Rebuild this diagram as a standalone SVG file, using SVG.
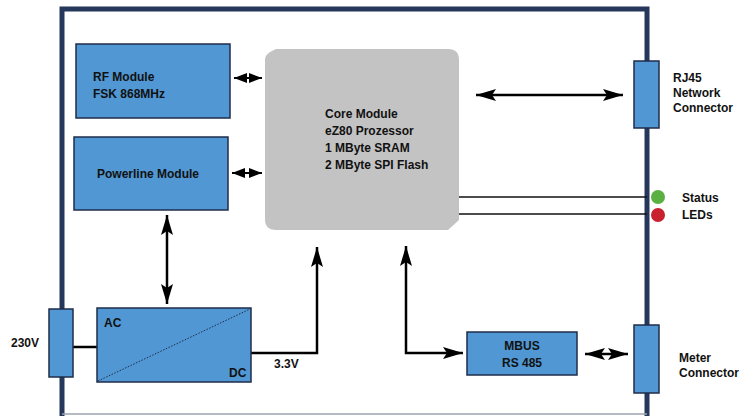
<svg xmlns="http://www.w3.org/2000/svg" width="755" height="416" viewBox="0 0 755 416">
<style>
.blk{fill:#5097d3;stroke:#1f2d4a;stroke-width:1.5}
.t{font-family:"Liberation Sans",Arial,sans-serif;font-weight:bold;font-size:12px;fill:#111}
.ln{fill:none;stroke:#000;stroke-width:2.5}
.thin{fill:none;stroke:#111;stroke-width:1.5}
.sm{fill:none;stroke:#000;stroke-width:2}
</style>
<defs>
<marker id="ah" markerUnits="userSpaceOnUse" markerWidth="22" markerHeight="12" refX="20" refY="6" orient="auto-start-reverse"><path d="M0,0 L20,6 L0,12 L4,6 Z" fill="#000"/></marker>
<marker id="sh" markerUnits="userSpaceOnUse" markerWidth="14" markerHeight="10" refX="13" refY="5" orient="auto-start-reverse"><path d="M0,0 L13,5 L0,10 Z" fill="#000"/></marker>
</defs>
<rect width="755" height="416" fill="#fff"/>
<g id="frame">
<rect x="62" y="9" width="585" height="412" fill="none" stroke="#25375a" stroke-width="5"/>
<line x1="62" y1="414" x2="647" y2="414" stroke="#9aa3ad" stroke-width="1.5"/>
</g>
<g id="connectors">
<line class="sm" x1="234" y1="78" x2="262" y2="78" marker-start="url(#sh)" marker-end="url(#sh)"/>
<line class="sm" x1="232" y1="173" x2="262" y2="173" marker-start="url(#sh)" marker-end="url(#sh)"/>
<line class="ln" x1="476" y1="95" x2="623" y2="95" marker-start="url(#ah)" marker-end="url(#ah)"/>
<line class="ln" x1="167" y1="215" x2="167" y2="304" marker-start="url(#ah)" marker-end="url(#ah)"/>
<polyline class="ln" points="251,353 317,353 317,247" marker-end="url(#ah)"/>
<polyline class="ln" points="406,246 406,353 463,353" marker-start="url(#ah)" marker-end="url(#ah)"/>
<line class="ln" x1="585" y1="354" x2="628" y2="354" marker-start="url(#ah)" marker-end="url(#ah)"/>
<line class="thin" x1="459" y1="197" x2="647" y2="197"/>
<line class="thin" x1="459" y1="214" x2="647" y2="214"/>
<line x1="73" y1="347" x2="97" y2="347" stroke="#000" stroke-width="2.5"/>
</g>
<g id="rf">
<rect class="blk" x="76" y="44" width="154" height="74"/>
<text class="t" x="93" y="81">RF Module</text>
<text class="t" x="93" y="98">FSK 868MHz</text>
</g>
<g id="powerline">
<rect class="blk" x="74" y="137" width="154" height="73"/>
<text class="t" x="97" y="178">Powerline Module</text>
</g>
<g id="core">
<path d="M276,49 L448,49 Q459,49 459,60 L459,220 L448,230 L276,230 Q265,230 265,219 L265,60 Q265,55 270,52 Z" fill="#c3c3c3"/>
<text class="t" x="325" y="118">Core Module</text>
<text class="t" x="325" y="135">eZ80 Prozessor</text>
<text class="t" x="325" y="152">1 MByte SRAM</text>
<text class="t" x="325" y="169">2 MByte SPI Flash</text>
</g>
<g id="rj45">
<rect class="blk" x="634" y="61" width="25" height="67"/>
<text class="t" x="673" y="82">RJ45</text>
<text class="t" x="673" y="97">Network</text>
<text class="t" x="673" y="112">Connector</text>
</g>
<g id="leds">
<circle cx="658" cy="197" r="7" fill="#5bb043"/>
<circle cx="658" cy="215" r="7" fill="#c8202f"/>
<text class="t" x="682" y="202">Status</text>
<text class="t" x="682" y="219">LEDs</text>
</g>
<g id="acdc">
<rect class="blk" x="97" y="308" width="154" height="74"/>
<line x1="98" y1="381" x2="250" y2="309" stroke="#1f2d4a" stroke-width="1" stroke-dasharray="1.5,1.5"/>
<text class="t" x="104" y="327">AC</text>
<text class="t" x="229" y="377">DC</text>
</g>
<g id="v230">
<rect class="blk" x="49" y="309" width="24" height="68"/>
<text class="t" x="11" y="347">230V</text>
</g>
<text class="t" x="274" y="368">3.3V</text>
<g id="mbus">
<rect class="blk" x="467" y="332" width="110" height="43"/>
<text class="t" x="522" y="350" text-anchor="middle">MBUS</text>
<text class="t" x="522" y="367" text-anchor="middle">RS 485</text>
</g>
<g id="meter">
<rect class="blk" x="634" y="325" width="25" height="68"/>
<text class="t" x="679" y="362">Meter</text>
<text class="t" x="679" y="377">Connector</text>
</g>
</svg>
